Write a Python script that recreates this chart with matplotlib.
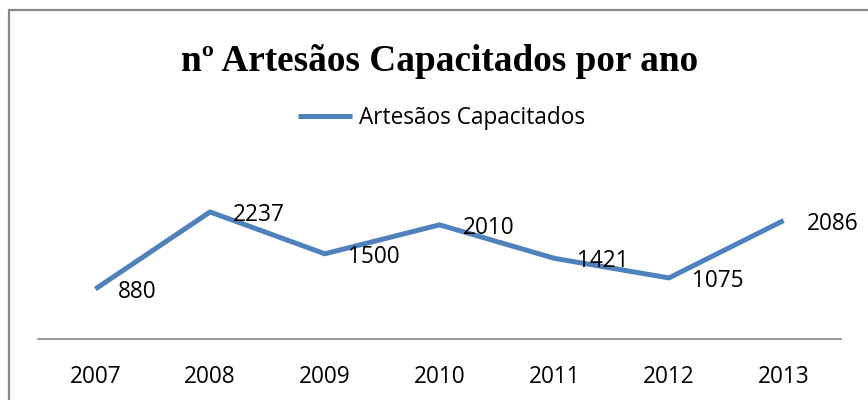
import matplotlib
matplotlib.use("Agg")
import matplotlib.pyplot as plt
from matplotlib.patches import Rectangle

# dados do grafico
anos = ['2007', '2008', '2009', '2010', '2011', '2012', '2013']
capacitados = [880, 2237, 1500, 2010, 1421, 1075, 2086]
titulo = 'nº Artesãos Capacitados por ano'
serie = 'Artesãos Capacitados'

W, H = 868, 400
fig = plt.figure(figsize=(W/100, H/100), dpi=100)
ax = fig.add_axes([38/W, 61/H, 803/W, 142/H])

x = list(range(len(anos)))
ax.plot(x, capacitados, color='#4F81BD', lw=3.6, solid_capstyle='butt', label=serie)
for i, v in zip(x, capacitados):
    ax.annotate(str(v), (i, v), xytext=(23, -9), textcoords='offset pixels',
                ha='left', va='baseline', fontsize=16.3, family='Open Sans')

ax.set_xlim(-0.5, len(anos) - 0.5)
ax.set_ylim(0, 2500)
ax.set_xticks(x)
ax.set_xticklabels(anos, fontsize=16.3, family='Open Sans')
ax.set_yticks([])
ax.tick_params(axis='x', length=0, pad=31.7)
for t in ax.get_xticklabels():
    t.set_verticalalignment('baseline')
for s in ['top', 'left', 'right']:
    ax.spines[s].set_visible(False)
ax.spines['bottom'].set_color('#868686')
ax.spines['bottom'].set_linewidth(1.2)
ax.patch.set_visible(False)

fig.text(439.5/W, 1 - 71/H, titulo, ha='center', va='baseline',
         fontsize=26.8, fontweight='bold', family='Liberation Serif')

leg = fig.legend(loc='center', bbox_to_anchor=(441.5/W, 1 - 118/H), frameon=False,
                 prop={'family': 'Open Sans', 'size': 16.3}, handlelength=2.39,
                 handletextpad=0.27, borderpad=0, borderaxespad=0)

# moldura do grafico
fig.add_artist(Rectangle((8.5/W, -0.1), 1.0, 1.1 - 10/H, transform=fig.transFigure,
                         fill=False, edgecolor='#888888', lw=1.6))

fig.savefig('out.png', dpi=100)
